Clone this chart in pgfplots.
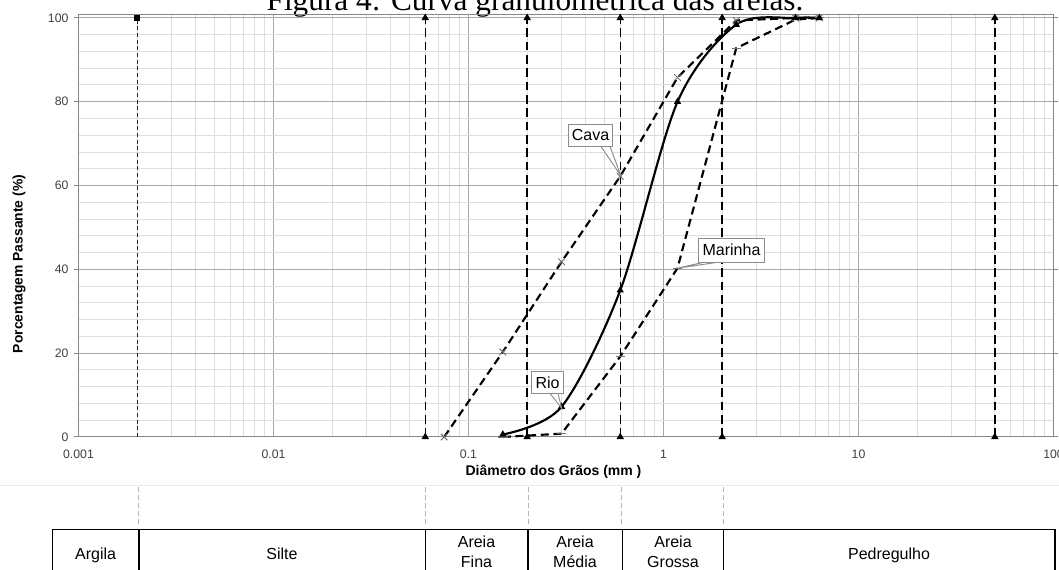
\documentclass[border=0pt]{standalone}
\usepackage{pgfplots}
\pgfplotsset{compat=1.18}
\usepackage{fontspec}
\setmainfont{Liberation Sans}
\newfontfamily\seriffont{Liberation Serif}
\definecolor{majgrid}{HTML}{A8A8A8}
\definecolor{mingrid}{HTML}{DEDEDE}
\definecolor{axgray}{HTML}{868686}
\definecolor{ticktext}{HTML}{404040}
\definecolor{callgray}{HTML}{8C8C8C}

\pgfplotstableread{
x y
0.075 0
0.15 20.3
0.3 41.8
0.6 62.2
1.18 85.8
2.36 99.4
4.75 100
6.3 100
}\cava
\pgfplotstableread{
x y
0.15 0.6
0.3 7.2
0.6 35
1.18 80
2.36 98.4
4.75 100
6.3 100
}\rio
\pgfplotstableread{
x y
0.15 0
0.3 0.8
0.6 19.2
1.18 40.3
2.36 92.8
4.75 99.6
6.3 100
}\marinha

\begin{document}
\begin{tikzpicture}[x=0.75pt,y=0.75pt]
\path[use as bounding box, clip] (0,0) rectangle (1059,570);
% title (top cut off as in the reference)
\node[anchor=base, inner sep=0pt, font=\seriffont\fontsize{23.5}{28}\selectfont] at (535,559) {Figura 4: Curva granulométrica das areias.};

\begin{axis}[
  at={(58.875pt,99.75pt)}, anchor=south west,
  scale only axis, width=731.25pt, height=316.8pt,
  xmode=log, log basis x=10,
  xmin=0.001, xmax=100, ymin=0, ymax=100.8,
  xtick={0.001,0.01,0.1,1,10,100},
  xticklabels={0.001,0.01,0.1,1,10,100},
  minor xtick={0.002,0.003,0.004,0.005,0.006,0.007,0.008,0.009,
               0.02,0.03,0.04,0.05,0.06,0.07,0.08,0.09,
               0.2,0.3,0.4,0.5,0.6,0.7,0.8,0.9,
               2,3,4,5,6,7,8,9,
               20,30,40,50,60,70,80,90},
  ytick={0,20,40,60,80,100},
  minor ytick={4,8,12,16,24,28,32,36,44,48,52,56,64,68,72,76,84,88,92,96},
  /pgf/number format/assume math mode=true,
  grid=both,
  major grid style={majgrid, line width=0.75pt},
  minor grid style={mingrid, line width=0.75pt},
  axis line style={axgray, line width=0.75pt},
  tick align=outside,
  major tick length=3.5pt, minor tick length=0pt,
  xtick style={draw=none},
  ytick style={axgray, line width=0.75pt},
  ticklabel style={font=\fontsize{9.2}{11}\selectfont, text=ticktext},
  xticklabel style={yshift=-2.5pt},
  yticklabel style={xshift=-0.5pt},
  clip=false,
]
% clay / silt / sand / gravel limits
\addplot[black!85, line width=0.8pt, dash pattern=on 3pt off 2pt,
  mark=square*, mark size=2pt, mark options={solid, black}, mark indices={2}]
  coordinates {(0.002,0) (0.002,100)};
\addplot[black, line width=1.1pt, dash pattern=on 6.5pt off 3.5pt,
  mark=triangle*, mark size=2.2pt, mark options={solid}]
  coordinates {(0.06,0) (0.06,100)};
\addplot[black, line width=1.1pt, dash pattern=on 6.5pt off 3.5pt,
  mark=triangle*, mark size=2.2pt, mark options={solid}]
  coordinates {(0.2,0) (0.2,100)};
\addplot[black, line width=1.1pt, dash pattern=on 6.5pt off 3.5pt,
  mark=triangle*, mark size=2.2pt, mark options={solid}]
  coordinates {(0.6,0) (0.6,100)};
\addplot[black, line width=1.1pt, dash pattern=on 6.5pt off 3.5pt,
  mark=triangle*, mark size=2.2pt, mark options={solid}]
  coordinates {(2,0) (2,100)};
\addplot[black, line width=1.1pt, dash pattern=on 6.5pt off 3.5pt,
  mark=triangle*, mark size=2.2pt, mark options={solid}]
  coordinates {(50,0) (50,100)};
% curves
\addplot[black, line width=1.6pt, dash pattern=on 6pt off 3.5pt,
  mark=x, mark size=3.5pt, mark options={solid, black!55, line width=0.7pt}]
  table[x=x,y=y] {\cava};
\addplot[black, line width=1.6pt, dash pattern=on 6pt off 3.5pt,
  mark=-, mark size=3.5pt, mark options={solid, black!55, line width=0.8pt}]
  table[x=x,y=y] {\marinha};
\addplot[black, line width=1.6pt, smooth, tension=0.5,
  mark=triangle*, mark size=1.6pt, mark options={solid}]
  table[x=x,y=y] {\rio};
\end{axis}

% callouts
\tikzset{callout/.style={draw=callgray, fill=white, line width=0.7pt, inner sep=0pt,
   font=\fontsize{12}{14}\selectfont}}
\filldraw[draw=callgray, fill=white, line width=0.7pt] (601,423.5) -- (621,394) -- (610,423.5);
\node[callout, minimum width=33pt, minimum height=17pt] at (590.5,434.5) {Cava};
\filldraw[draw=callgray, fill=white, line width=0.7pt] (707,308.5) -- (677,301.7) -- (723,308.5);
\node[callout, minimum width=50pt, minimum height=18pt] at (731.5,320) {Marinha};
\filldraw[draw=callgray, fill=white, line width=0.7pt] (550,176.5) -- (561.7,161.7) -- (558,176.5);
\node[callout, minimum width=23.6pt, minimum height=17pt] at (547.5,187.5) {Rio};

% axis titles
\node[rotate=90, font=\bfseries\fontsize{10.4}{12}\selectfont] at (19,306) {Porcentagem Passante (\%)};
\node[font=\bfseries\fontsize{10.5}{12}\selectfont] at (553.5,98) {Diâmetro dos Grãos (mm )};

% extension lines and classification table
\draw[black!8, line width=0.75pt] (0,84) -- (1059,84);
\foreach \xx in {138.5,425.5,528,621.5,723.5}
  \draw[black!30, line width=0.6pt, dash pattern=on 4pt off 2pt] (\xx,83) -- (\xx,44);
\draw[black, line width=1.2pt] (52.3,-10) -- (52.3,40.5) -- (1055,40.5) -- (1055,-10);
\foreach \xx in {139,425.5,528,622.5,723.5}
  \draw[black, line width=1.2pt] (\xx,-10) -- (\xx,40.5);
\tikzset{cell/.style={anchor=base, inner sep=0pt, font=\fontsize{12}{14}\selectfont}}
\node[cell] at (95.6,10.5) {Argila};
\node[cell] at (282,10.5) {Silte};
\node[cell] at (889,10.5) {Pedregulho};
\node[cell] at (476.5,22) {Areia};
\node[cell] at (476.5,2) {Fina};
\node[cell] at (575,22) {Areia};
\node[cell] at (575,2) {Média};
\node[cell] at (673,22) {Areia};
\node[cell] at (673,2) {Grossa};
\end{tikzpicture}
\end{document}
